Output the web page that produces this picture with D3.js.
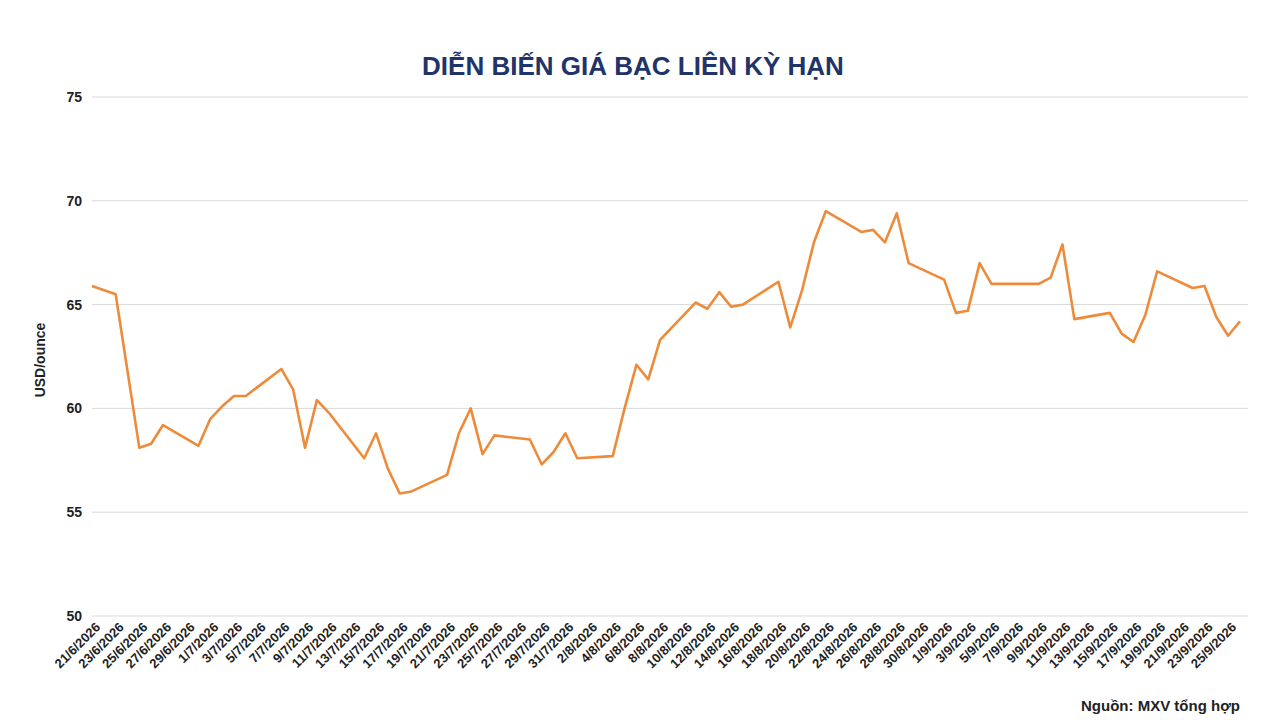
<!DOCTYPE html>
<html><head><meta charset="utf-8">
<script src="https://cdn.jsdelivr.net/npm/d3@7"></script>
<style>body{margin:0;background:#fff}text{font-family:"Liberation Sans",Arial,sans-serif}</style>
</head><body><svg id="c" width="1280" height="720"></svg>
<script>
const dates=["21/6","23/6","25/6","26/6","27/6","30/6","1/7","2/7","3/7","4/7","7/7","8/7","9/7","10/7","11/7","14/7","15/7","16/7","17/7","18/7","21/7","22/7","23/7","24/7","25/7","28/7","29/7","30/7","31/7","1/8","4/8","5/8","6/8","7/8","8/8","11/8","12/8","13/8","14/8","15/8","18/8","19/8","20/8","21/8","22/8","25/8","26/8","27/8","28/8","29/8","1/9","2/9","3/9","4/9","5/9","8/9","9/9","10/9","11/9","12/9","15/9","16/9","17/9","18/9","19/9","22/9","23/9","24/9","25/9","26/9"];
const prices=[65.9,65.5,58.1,58.3,59.2,58.2,59.5,60.1,60.6,60.6,61.9,60.9,58.1,60.4,59.8,57.6,58.8,57.1,55.9,56.0,56.8,58.8,60.0,57.8,58.7,58.5,57.3,57.9,58.8,57.6,57.7,60.0,62.1,61.4,63.3,65.1,64.8,65.6,64.9,65.0,66.1,63.9,65.7,68.0,69.5,68.5,68.6,68.0,69.4,67.0,66.2,64.6,64.7,67.0,66.0,66.0,66.0,66.3,67.9,64.3,64.6,63.6,63.2,64.5,66.6,65.8,65.9,64.4,63.5,64.2];
const yTicks=[50,55,60,65,70,75];
const title="DIỄN BIẾN GIÁ BẠC LIÊN KỲ HẠN";
const source="Nguồn: MXV tổng hợp";
const yLabel="USD/ounce";

const parse=s=>{const [d,m]=s.split("/").map(Number);return new Date(2026,m-1,d);};
const data=dates.map((d,i)=>({date:parse(d),v:prices[i]}));
const svg=d3.select("#c");
const x=d3.scaleTime().domain([new Date(2026,5,21),new Date(2026,8,26)]).range([92,1240]);
const y=d3.scaleLinear().domain([50,75]).range([616,97]);

svg.append("g").selectAll("line").data(yTicks).join("line")
 .attr("x1",92).attr("x2",1248).attr("y1",d=>y(d)).attr("y2",d=>y(d))
 .attr("stroke","#d9d9d9").attr("stroke-width",1);
svg.append("g").selectAll("text").data(yTicks).join("text")
 .attr("x",82).attr("y",d=>y(d)+5).attr("text-anchor","end")
 .attr("font-size",14).attr("font-weight","bold").attr("fill","#222").text(d=>d);

const ticks=d3.timeDay.range(new Date(2026,5,21),new Date(2026,8,26),2);
svg.append("g").selectAll("text").data(ticks).join("text")
 .attr("transform",d=>`translate(${x(d)+9},${628}) rotate(-45)`)
 .attr("text-anchor","end").attr("font-size",13).attr("font-weight","bold").attr("fill","#222")
 .text(d=>`${d.getDate()}/${d.getMonth()+1}/2026`);

svg.append("path").datum(data)
 .attr("d",d3.line().x(d=>x(d.date)).y(d=>y(d.v)))
 .attr("fill","none").attr("stroke","#ed8b3b").attr("stroke-width",2.6).attr("stroke-linejoin","round");

svg.append("text").attr("x",633).attr("y",75).attr("text-anchor","middle")
 .attr("font-size",26).attr("font-weight","bold").attr("fill","#1f3468").text(title);
svg.append("text").attr("transform","translate(45,360) rotate(-90)").attr("text-anchor","middle")
 .attr("font-size",14).attr("font-weight","bold").attr("fill","#222").text(yLabel);
svg.append("text").attr("x",1240).attr("y",711).attr("text-anchor","end")
 .attr("font-size",15).attr("font-weight","bold").attr("fill","#222").text(source);
</script></body></html>
